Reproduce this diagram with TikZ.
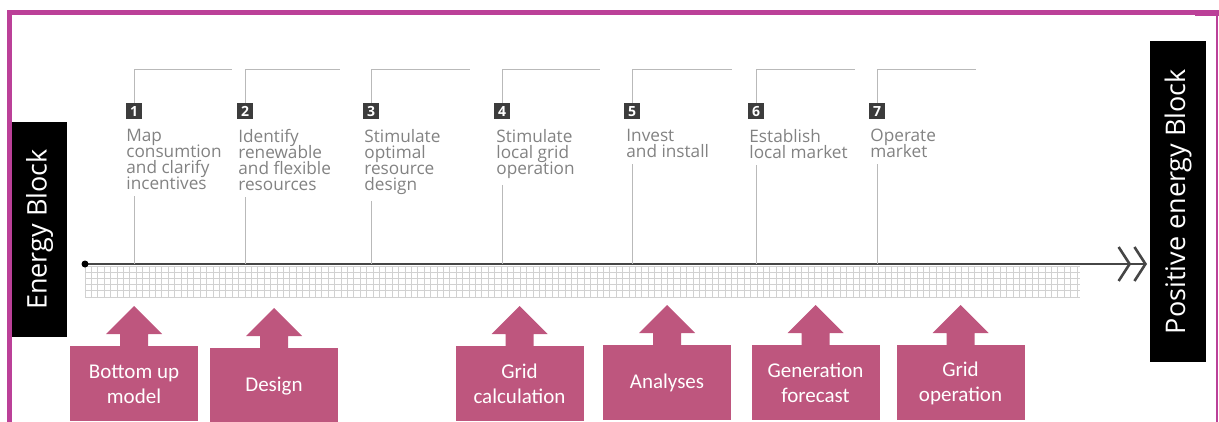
\documentclass[tikz,border=0pt]{standalone}
\usepackage{fontspec}
\setmainfont{Open Sans}
\newfontfamily\boxfont{Carlito}
\usepackage{tikz}
\definecolor{framemagenta}{RGB}{187, 64, 152}
\definecolor{toolpink}{RGB}{190, 86, 126}
\definecolor{stepgray}{RGB}{130, 130, 130}
\definecolor{rulegray}{RGB}{185, 185, 185}
\definecolor{numgray}{RGB}{60, 60, 60}
\definecolor{linegray}{RGB}{70, 70, 70}
\usetikzlibrary{arrows.meta, positioning, calc}

% pink up-arrow sitting on top of a tool box
\newcommand{\toolarrow}[1]{%
  \fill[toolpink] ($(#1.north)+(-14,0)$) -- ++(0,-12) -- ++(-14,0)
    -- ($(#1.north)+(0,-40)$) -- ($(#1.north)+(28,-12)$) -- ++(-14,0)
    -- ++(0,12) -- cycle;}

\begin{document}
\begin{tikzpicture}[
    x=0.5pt, y=-0.5pt,
    block/.style={fill=black, text=white, rotate=90, inner sep=0pt,
                  font=\fontsize{13.5}{16}\selectfont},
    stepnum/.style={fill=numgray, text=white, minimum size=8pt, inner sep=0pt,
                    font=\bfseries\fontsize{7}{7}\selectfont},
    steptext/.style={anchor=north west, inner sep=0pt, align=left, text=stepgray,
                     font={\fontsize{8.6}{8}\selectfont\lineskiplimit=-6pt}},
    bracket/.style={rulegray, line width=0.5pt},
    toolbox/.style={fill=toolpink, text=white, anchor=north, inner sep=0pt,
                    minimum width=64pt, minimum height=37.5pt, align=center,
                    font=\boxfont\fontsize{10.5}{12.5}\selectfont},
    timeline/.style={linegray, line width=1pt,
                     -{Straight Barb[length=5.5pt, width=17pt, line width=1.3pt, sep=1pt]
                       Straight Barb[length=5.5pt, width=17pt, line width=1.3pt]}},
    gridline/.style={black!18, line width=0.35pt}
]
    \useasboundingbox (0,0) rectangle (1219,422);

    % Frame
    \draw[framemagenta, line width=2.5pt] (9.5,422) -- (9.5,12.5) -- (1219,12.5);
    \fill[framemagenta] (1195,10) rectangle (1219,16);
    \draw[framemagenta, line width=0.8pt] (1217,12) -- (1217,422);

    % Start and end blocks
    \node[block, minimum width=107.5pt, minimum height=27.5pt] (startblock) at (39.5,229.5) {Energy Block};
    \node[block, minimum width=160.5pt, minimum height=28pt] (endblock) at (1178,201.5) {Positive energy Block};

    % Grid under the timeline
    \foreach \i in {0,...,155}
        \draw[gridline] (85+\i*6.4,266) -- ++(0,31);
    \foreach \i in {0,...,5}
        \draw[gridline] (85,266+\i*6.2) -- (1080,266+\i*6.2);

    % Timeline
    \coordinate (start) at (85,264);
    \coordinate (finish) at (1147,264);
    \draw[timeline] (start) -- (finish);
    \fill[black] (start) circle (3.5);

    % Steps
    \node[stepnum] (n1) at (134,111.5) {1};
    \node[steptext] (t1) at (126,129) {Map\\consumtion\\and clarify\\incentives};
    \node[stepnum] (n2) at (245,111.5) {2};
    \node[steptext] (t2) at (238,129) {Identify\\renewable\\and flexible\\resources};
    \node[stepnum] (n3) at (371,111.5) {3};
    \node[steptext] (t3) at (364,129) {Stimulate\\optimal\\resource\\design};
    \node[stepnum] (n4) at (502,111.5) {4};
    \node[steptext] (t4) at (496,129) {Stimulate\\local grid\\operation};
    \node[stepnum] (n5) at (632,111.5) {5};
    \node[steptext] (t5) at (626,129) {Invest\\and install};
    \node[stepnum] (n6) at (756,111.5) {6};
    \node[steptext] (t6) at (749,129) {Establish\\local market};
    \node[stepnum] (n7) at (877,111.5) {7};
    \node[steptext] (t7) at (870,129) {Operate\\market};

    % Step brackets
    \draw[bracket] (n1.north) |- ++(98,-34);
    \draw[bracket] (n2.north) |- ++(95,-34);
    \draw[bracket] (n3.north) |- ++(99,-34);
    \draw[bracket] (n4.north) |- ++(98,-34);
    \draw[bracket] (n5.north) |- ++(100,-34);
    \draw[bracket] (n6.north) |- ++(99,-34);
    \draw[bracket] (n7.north) |- ++(99,-34);
    \draw[bracket] ($(t1.south -| n1)+(0,6)$) -- (n1 |- start);
    \draw[bracket] ($(t2.south -| n2)+(0,6)$) -- (n2 |- start);
    \draw[bracket] ($(t3.south -| n3)+(0,6)$) -- (n3 |- start);
    \draw[bracket] ($(t4.south -| n4)+(0,6)$) -- (n4 |- start);
    \draw[bracket] ($(t5.south -| n5)+(0,6)$) -- (n5 |- start);
    \draw[bracket] ($(t6.south -| n6)+(0,6)$) -- (n6 |- start);
    \draw[bracket] ($(t7.south -| n7)+(0,6)$) -- (n7 |- start);

    % Tools
    \node[toolbox] (b1) at (134,346) {Bottom up\\model};
    \node[toolbox] (b2) at (274,348) {Design};
    \node[toolbox] (b3) at (519.5,346) {Grid\\calculation};
    \node[toolbox] (b4) at (667,345) {Analyses};
    \node[toolbox] (b5) at (815.5,345) {Generation\\forecast};
    \node[toolbox] (b6) at (960.5,345) {Grid\\operation};
    \toolarrow{b1}
    \toolarrow{b2}
    \toolarrow{b3}
    \toolarrow{b4}
    \toolarrow{b5}
    \toolarrow{b6}
\end{tikzpicture}
\end{document}
